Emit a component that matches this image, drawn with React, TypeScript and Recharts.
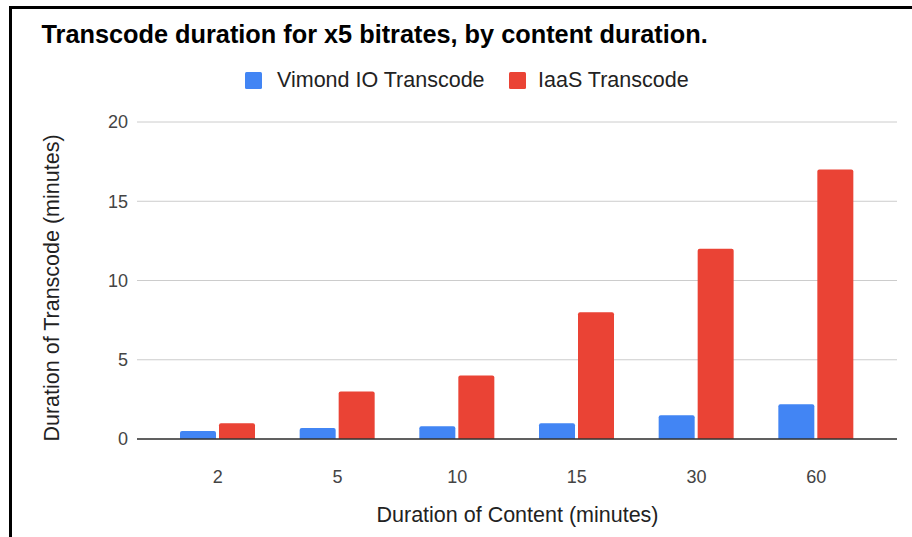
import { BarChart, Bar, XAxis, YAxis, CartesianGrid } from "recharts"

const categories = ["2", "5", "10", "15", "30", "60"]
const vimondIO = [0.5, 0.7, 0.8, 1.0, 1.5, 2.2]
const iaas = [1, 3, 4, 8, 12, 17]
const yTicks = [0, 5, 10, 15, 20]

const BLUE = "#4285F4"
const RED = "#EA4335"
const FONT = "'Liberation Sans', Arial, sans-serif"

const data = categories.map((c, i) => ({ content: c, vimond: vimondIO[i], iaas: iaas[i] }))

export default function App() {
  return (
    <div
      style={{
        position: "absolute",
        left: 0,
        top: 0,
        width: 912,
        height: 537,
        background: "#fff",
        overflow: "hidden",
        fontFamily: FONT,
      }}
    >
      {/* frame of the screenshot */}
      <div
        style={{
          position: "absolute",
          left: 9,
          top: 6,
          width: 920,
          height: 540,
          borderTop: "3px solid #000",
          borderLeft: "3px solid #000",
        }}
      />
      <div style={{ position: "absolute", left: 0, top: 0 }}>
        <BarChart
          width={912}
          height={537}
          data={data}
          margin={{ top: 122, right: 15, bottom: 58, left: 77 }}
          barGap={3}
          barSize={36}
        >
          <CartesianGrid vertical={false} stroke="#ccc" />
          <XAxis
            dataKey="content"
            height={40}
            padding={{ left: 21, right: 21 }}
            tickLine={false}
            tickSize={0}
            tickMargin={31}
            axisLine={{ stroke: "#333", strokeWidth: 1.5 }}
            tick={{ fontSize: 18, fill: "#444", fontFamily: FONT }}
          />
          <YAxis
            width={60}
            domain={[0, 20]}
            ticks={yTicks}
            tickLine={false}
            tickSize={0}
            tickMargin={9}
            axisLine={false}
            tick={{ fontSize: 18, fill: "#444", fontFamily: FONT }}
          />
          <Bar dataKey="vimond" name="Vimond IO Transcode" fill={BLUE} radius={[2, 2, 0, 0]} isAnimationActive={false} />
          <Bar dataKey="iaas" name="IaaS Transcode" fill={RED} radius={[2, 2, 0, 0]} isAnimationActive={false} />
        </BarChart>
      </div>
      <svg
        width={912}
        height={537}
        style={{ position: "absolute", left: 0, top: 0, pointerEvents: "none" }}
        fontFamily={FONT}
      >
        <text x={41.5} y={42.5} fontSize={25.3} fontWeight="bold" fill="#000">
          Transcode duration for x5 bitrates, by content duration.
        </text>
        {/* legend */}
        <rect x={245} y={72} width={17} height={17} rx={1.5} fill={BLUE} />
        <text x={277} y={87.3} fontSize={21.5} fill="#222">
          Vimond IO Transcode
        </text>
        <rect x={509} y={72} width={17} height={17} rx={1.5} fill={RED} />
        <text x={538} y={87.3} fontSize={21.5} fill="#222">
          IaaS Transcode
        </text>
        {/* axis titles */}
        <text x={517.5} y={522} fontSize={21.5} fill="#222" textAnchor="middle">
          Duration of Content (minutes)
        </text>
        <text transform="translate(58.5,288) rotate(-90)" fontSize={21.5} fill="#222" textAnchor="middle">
          Duration of Transcode (minutes)
        </text>
      </svg>
    </div>
  )
}
